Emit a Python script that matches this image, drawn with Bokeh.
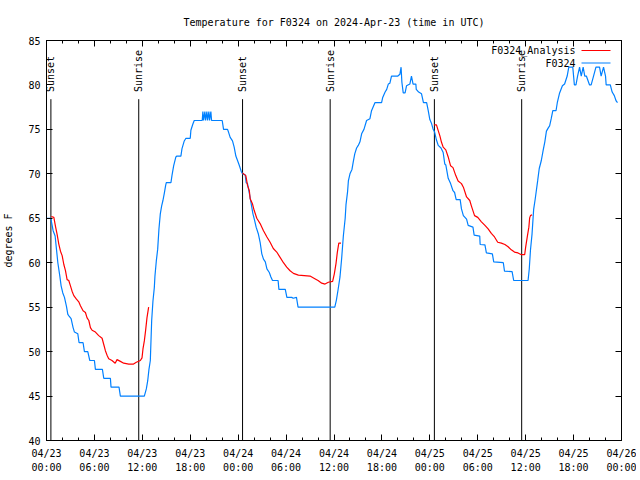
import math
import pandas as pd
from bokeh.plotting import figure
from bokeh.models import (Range1d, FixedTicker, LinearAxis, DatetimeAxis, Label,
                          BoxAnnotation, CustomJSTickFormatter)
from bokeh.core.properties import value
from bokeh.embed import file_html
from bokeh.resources import INLINE

# ---------------- data (hours after 2024-04-23 00:00 UTC) ----------------
obs_hours = [0.0, 0.5, 0.58, 0.83, 1.08, 1.25, 1.42, 1.67, 1.83, 2.04, 2.25, 2.5, 2.67, 2.83,
             3.08, 3.33, 3.5, 3.92, 4.08, 4.58, 4.75, 5.17, 5.42, 6.0, 6.125, 7.0, 7.17, 8.0,
             8.08, 9.08, 9.25, 12.25, 12.5, 12.67, 12.83, 13.0, 13.17, 13.33, 13.5, 13.58,
             13.75, 13.92, 14.08, 14.25, 14.42, 14.58, 14.75, 14.92, 15.0, 15.58, 15.71, 15.92,
             16.2, 16.33, 16.83, 16.96, 17.25, 17.46, 18.0, 18.08, 18.33, 18.5, 19.5, 19.58,
             19.67, 19.83, 19.92, 20.08, 20.17, 20.33, 20.42, 20.58, 20.67, 22.0, 22.17, 22.67,
             22.79, 23.0, 23.29, 23.5, 23.71, 23.92, 24.125, 24.375, 24.54, 24.875, 25.0,
             25.17, 25.4, 25.6, 25.85, 26.05, 26.25, 26.54, 26.75, 26.96, 27.17, 27.4, 27.6,
             27.9, 28.1, 28.3, 29.0, 29.1, 29.9, 30.1, 30.7, 30.9, 31.3, 31.5, 36.1, 36.3,
             36.5, 36.75, 36.96, 37.17, 37.4, 37.5, 37.7, 37.8, 38.0, 38.25, 38.4, 38.6,
             38.83, 39.04, 39.25, 39.46, 39.75, 40.08, 40.5, 40.7, 41.125, 41.96, 42.1, 42.4,
             42.6, 42.8, 43.0, 43.2, 44.0, 44.25, 44.4, 44.5, 44.67, 44.9, 45.08, 45.5, 45.7,
             45.9, 46.25, 46.3, 46.6, 46.96, 47.2, 47.6, 47.8, 48.0, 48.2, 48.4, 48.6, 48.83,
             49.05, 49.4, 49.67, 49.875, 50.0, 50.3, 50.6, 50.9, 51.1, 51.3, 51.8, 51.96, 52.2,
             52.6, 52.8, 53.4, 53.55, 54.25, 54.3, 54.9, 55.08, 55.83, 56.0, 57.2, 57.35, 58.3,
             58.5, 60.3, 60.45, 60.6, 60.8, 61.0, 61.2, 61.5, 61.7, 61.96, 62.2, 62.4, 62.6,
             62.85, 63.0, 63.2, 63.4, 63.8, 63.96, 64.25, 64.6, 64.875, 65.2, 65.4, 65.9, 66.1,
             66.3, 66.5, 66.75, 66.96, 67.2, 67.4, 67.6, 68.0, 68.2, 68.5, 68.8, 69.25, 69.45,
             69.75, 70.0, 70.08, 70.6, 70.83, 71.1, 71.33, 71.5]
obs_temp = [65, 65, 64.8, 63.6, 63.0, 61.5, 60, 58.5, 57.4, 56.6, 56.1, 55.1, 54.2, 54,
            53.7, 52.7, 52.2, 52, 51, 51, 50, 50, 49, 49, 48, 48, 47, 47,
            46, 46, 45, 45, 45.8, 46.7, 48, 49, 53.5, 55.7, 57.2, 58.5,
            60.2, 61.5, 63.8, 65.5, 66.4, 67, 67.8, 68.7, 69, 69, 69.8, 70.9,
            71.9, 72, 72, 72.8, 73.7, 74, 74, 74.9, 75.6, 76, 76, 77,
            76, 77, 76, 77, 76, 77, 76, 77, 76, 76, 75, 75,
            74.7, 74.1, 73.7, 73.0, 72.0, 71.5, 71.0, 70.3, 70.0, 69.9, 69,
            68.9, 67.8, 66.8, 65.5, 64.8, 64, 63.2, 62.3, 61, 60.4, 60.1, 59.3,
            58.9, 58.4, 58, 58, 57, 57, 56.1, 56.1, 56, 56.1, 55, 55, 55.8,
            56.9, 58.4, 60.5, 63, 65, 66.5, 68, 69.2, 70, 70.5, 71.3, 72.25,
            72.9, 73.2, 73.6, 74.5, 75, 76, 76.2, 77.1, 78, 78, 78.6, 79.2,
            79.5, 80.1, 80.2, 81, 81, 81.2, 82, 80.3, 79.1, 79.1, 79.9, 80.1, 81,
            80.1, 80.1, 79.5, 79.2, 79, 78, 78, 77.1, 76.1, 75.7, 75.05, 74.7, 73.8,
            73.2, 72.9, 72.4, 71.1, 71.0, 69.5, 68.9, 68.1, 67.9, 67.1, 67.1, 66.05, 65.3,
            64.9, 64.2, 64, 63.1, 63, 62.05, 62, 61.1, 61, 60.1, 60, 59.05, 59,
            58, 58, 59.3, 61.4, 63.25, 66, 67.2, 69.2, 70.6, 71.5, 72.7, 73.6, 74.8,
            75.2, 75.4, 76.2, 77.1, 77.1, 78, 79.1, 79.9, 80.1, 81, 82, 82, 80,
            80, 81, 82, 81, 82, 81, 81, 80, 80, 81, 82, 82, 81,
            82, 81, 80, 80, 79.2, 78.8, 78.2, 78]

ana1_hours = [0.6, 0.92, 1.125, 1.33, 1.54, 1.75, 1.96, 2.17, 2.375, 2.58, 2.79, 3.0, 3.2, 3.42,
              3.75, 4.04, 4.25, 4.58, 4.875, 5.08, 5.3, 5.5, 5.71, 6.125, 6.54, 6.96, 7.17,
              7.375, 7.58, 7.79, 8.2, 8.6, 8.83, 9.25, 9.67, 10.3, 10.9, 11.25, 11.75, 11.96,
              12.08, 12.25, 12.4, 12.58, 12.79]
ana1_temp = [65.2, 65.1, 64.1, 63.2, 62.1, 61.3, 60.8, 59.8, 59.1, 58.1, 58.0, 57.4, 56.8, 56.3,
             55.9, 55.6, 55.15, 54.6, 54.4, 53.8, 53.5, 52.7, 52.4, 52.2, 51.8, 51.5, 50.8,
             50.1, 49.6, 49.2, 49.0, 48.7, 49.1, 48.9, 48.7, 48.6, 48.6, 48.8, 49.0, 49.3,
             50.3, 51.2, 52.3, 53.8, 55.0]
ana2_hours = [24.54, 24.96, 25.17, 25.4, 25.5, 25.8, 26.0, 26.33, 26.75, 27.17, 27.6, 28.0, 28.4,
              28.83, 29.25, 29.67, 30.08, 30.5, 30.92, 31.54, 33.0, 33.6, 34.0, 34.46, 34.875,
              35.29, 35.83, 36.04, 36.25, 36.42, 36.6, 36.875]
ana2_temp = [70.1, 69.8, 68.7, 68.1, 67.2, 66.6, 65.9, 65.0, 64.4, 63.6, 62.9, 62.3, 61.6,
             61.2, 60.6, 60.0, 59.5, 59.1, 58.8, 58.6, 58.5, 58.2, 58.0, 57.7, 57.6,
             57.8, 57.9, 58.75, 59.9, 61.2, 62.2, 62.2]
ana3_hours = [48.54, 48.83, 49.0, 49.25, 49.46, 49.67, 50.0, 50.3, 50.6, 50.9, 51.25, 51.54,
              51.96, 52.2, 52.6, 53.0, 53.2, 53.6, 54.0, 54.46, 54.9, 55.3, 55.7, 56.1, 56.5,
              56.96, 57.4, 57.8, 58.2, 58.6, 59.04, 59.46, 59.875, 60.0, 60.2, 60.4, 60.5,
              60.6, 60.8]
ana3_temp = [75.5, 75.5, 75, 74.3, 73.55, 73, 72.7, 71.9, 70.9, 70.7, 69.8, 69.2,
             68.9, 68.5, 67.4, 67, 66.4, 65.3, 65.1, 64.6, 64.2, 63.8, 63.3, 62.9, 62.3,
             62.2, 62.05, 61.8, 61.45, 61.2, 61.1, 60.9, 60.9, 61.75, 62.9, 64.0, 65.05,
             65.3, 65.4]

sun_hours = [0.55, 11.55, 24.55, 35.52, 48.57, 59.5]
sun_labels = ["Sunset", "Sunrise", "Sunset", "Sunrise", "Sunset", "Sunrise"]

tick_hours = [0, 6, 12, 18, 24, 30, 36, 42, 48, 54, 60, 66, 72]
tick_labels = ["04/23\n00:00", "04/23\n06:00", "04/23\n12:00", "04/23\n18:00",
               "04/24\n00:00", "04/24\n06:00", "04/24\n12:00", "04/24\n18:00",
               "04/25\n00:00", "04/25\n06:00", "04/25\n12:00", "04/25\n18:00",
               "04/26\n00:00"]
minor_hours = list(range(0, 73, 2))
y_ticks = [40, 45, 50, 55, 60, 65, 70, 75, 80, 85]

title = "Temperature for F0324 on 2024-Apr-23 (time in UTC)"
series_names = ["F0324_Analysis", "F0324"]
RED = "#ff0000"
BLUE = "#0080ff"
FONT = "DejaVu Sans Mono"
FS = "10px"

base = pd.Timestamp("2024-04-23 00:00")
def to_dt(hours):
    return [base + pd.Timedelta(hours=h) for h in hours]
def to_ms(hours):
    return [int((base + pd.Timedelta(hours=h)).value // 10**6) for h in hours]

# ---------------- figure ----------------
p = figure(width=636, height=476, output_backend="svg", toolbar_location=None,
           x_axis_type="datetime",
           x_range=Range1d(base, base + pd.Timedelta(hours=72)),
           y_range=Range1d(40, 85),
           min_border_left=46, min_border_right=15, min_border_top=40, min_border_bottom=36)
p.grid.visible = False
p.outline_line_color = "black"
p.outline_line_alpha = 1.0
p.background_fill_color = "white"
p.border_fill_color = "white"

p.title.text = title
p.title.align = "center"
p.title.text_font = FONT
p.title.text_font_size = FS
p.title.text_font_style = "normal"
p.title.text_color = "black"
p.title.standoff = 26

def style_axis(ax, labels=True):
    ax.axis_line_color = "black"
    ax.major_tick_line_color = "black"
    ax.minor_tick_line_color = "black"
    ax.major_tick_in = 6
    ax.major_tick_out = 0
    ax.minor_tick_in = 3
    ax.minor_tick_out = 0
    ax.major_label_text_font = FONT
    ax.major_label_text_font_size = FS
    ax.major_label_text_color = "black"
    if not labels:
        ax.formatter = CustomJSTickFormatter(code="return ''")
        ax.major_label_standoff = 0

xt = FixedTicker(ticks=to_ms(tick_hours), minor_ticks=to_ms(minor_hours))
yt = FixedTicker(ticks=y_ticks, minor_ticks=[])

xa = p.xaxis[0]
xa.ticker = xt
xa.major_label_overrides = dict(zip(to_ms(tick_hours), tick_labels))
style_axis(xa)
xa.major_label_standoff = 7
xa.major_label_text_line_height = 1.3

ya = p.yaxis[0]
ya.ticker = yt
style_axis(ya)
ya.major_label_standoff = 6
ya.axis_label = "degrees F"
ya.axis_label_text_font = FONT
ya.axis_label_text_font_size = FS
ya.axis_label_text_font_style = "normal"
ya.axis_label_text_color = "black"
ya.axis_label_standoff = 11

top = DatetimeAxis(ticker=xt)
style_axis(top, labels=False)
p.add_layout(top, "above")
right = LinearAxis(ticker=yt)
style_axis(right, labels=False)
p.add_layout(right, "right")

# sunrise / sunset markers
sun_x = to_dt(sun_hours)
p.segment(x0=sun_x, y0=[40] * len(sun_x), x1=sun_x, y1=[78.4] * len(sun_x),
          line_color="black", line_width=1)
p.text(x=sun_x, y=[79.2] * len(sun_x), text=sun_labels, angle=math.pi / 2,
       text_align="left", text_baseline="middle", text_font=value(FONT),
       text_font_size=FS, text_color="black")

# series
p.line(to_dt(obs_hours), obs_temp, line_color=BLUE, line_width=1.2)
for hh, tt in [(ana1_hours, ana1_temp), (ana2_hours, ana2_temp), (ana3_hours, ana3_temp)]:
    p.line(to_dt(hh), tt, line_color=RED, line_width=1.2)

# legend (text left, sample right, as in the reference)
for i, (name, col) in enumerate(zip(series_names, [RED, BLUE])):
    yy = 390 - i * 12.5
    p.add_layout(Label(x=529, y=yy, x_units="screen", y_units="screen", text=name,
                       text_align="right", text_baseline="middle", text_font=FONT,
                       text_font_size=FS, text_color="black"))
    p.add_layout(BoxAnnotation(left=535, right=564, bottom=yy - 0.6, top=yy + 0.6,
                               left_units="screen", right_units="screen",
                               bottom_units="screen", top_units="screen",
                               fill_color=col, fill_alpha=1, line_color=None))

open("out.html", "w").write(file_html(p, INLINE))
